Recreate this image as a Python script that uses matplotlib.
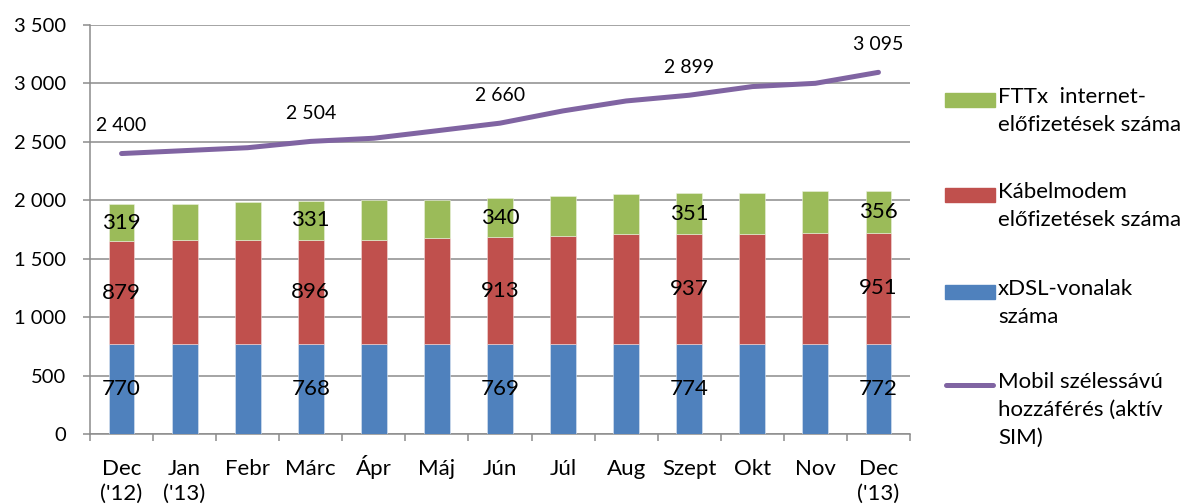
import matplotlib.pyplot as plt
from matplotlib.patches import Rectangle
from matplotlib.lines import Line2D

plt.rcParams['font.family'] = ['Lato', 'DejaVu Sans']

# Monthly data (thousands)
months = ["Dec\n('12)", "Jan\n('13)", 'Febr', 'Márc', 'Ápr', 'Máj', 'Jún',
          'Júl', 'Aug', 'Szept', 'Okt', 'Nov', "Dec\n('13)"]
xdsl = [770, 770, 769, 768, 768, 768, 769, 770, 771, 774, 772, 772, 772]
cable = [879, 893, 894, 896, 896, 909, 913, 925, 940, 937, 939, 950, 951]
fttx = [319, 308, 320, 331, 336, 325, 340, 344, 345, 351, 352, 357, 356]
mobile = [2400, 2425, 2450, 2504, 2531, 2595, 2660, 2765, 2850, 2899, 2973, 3001, 3095]
labelled = [0, 3, 6, 9, 12]

c_blue = '#4F81BD'
c_red = '#C0504D'
c_green = '#9BBB59'
c_purple = '#8064A2'
grid_c = '#8C8C8C'

def fmt(v):
    return f'{v:,}'.replace(',', ' ')

fig = plt.figure(figsize=(11.83, 5.04), dpi=100)
ax = fig.add_axes([90 / 1183, 1 - 434 / 504, 820 / 1183, 409 / 504])

x = list(range(len(months)))
w = 0.41
bottom2 = [a + b for a, b in zip(xdsl, cable)]
ax.bar(x, xdsl, w, color=c_blue, edgecolor='#DCE6F2', linewidth=0.4, zorder=3)
ax.bar(x, cable, w, bottom=xdsl, color=c_red, edgecolor='#F2DCDB', linewidth=0.4, zorder=3)
ax.bar(x, fttx, w, bottom=bottom2, color=c_green, edgecolor='#EBF1DE', linewidth=0.4, zorder=3)
ax.plot(x, mobile, color=c_purple, lw=3.6, solid_capstyle='round', zorder=4)

for i in labelled:
    ax.text(i, xdsl[i] / 2, str(xdsl[i]), ha='center', va='center', fontsize=16, zorder=5)
    ax.text(i, xdsl[i] + cable[i] / 2, str(cable[i]), ha='center', va='center', fontsize=16, zorder=5)
    ax.text(i, bottom2[i] + fttx[i] / 2, str(fttx[i]), ha='center', va='center', fontsize=16, zorder=5)
    ax.annotate(fmt(mobile[i]), (i, mobile[i]), xytext=(0, 14), textcoords='offset points',
                ha='center', va='bottom', fontsize=14, zorder=5)

ax.set_xlim(-0.5, 12.5)
ax.set_ylim(0, 3500)
ax.set_yticks(range(0, 3501, 500))
ax.set_yticklabels([fmt(v) for v in range(0, 3501, 500)], fontsize=14.5)
ax.set_xticks(x)
# every label gets two lines so that all first lines share one baseline
ax.set_xticklabels([m if '\n' in m else m + '\n' for m in months], fontsize=16, linespacing=1.33)
for lbl in ax.get_xticklabels():
    lbl.set_va('baseline')
ax.set_xticks([i - 0.5 for i in range(len(months) + 1)], minor=True)
ax.tick_params(axis='x', which='major', length=0, pad=47.5)
ax.tick_params(axis='x', which='minor', length=5, color=grid_c, width=1.1)
ax.tick_params(axis='y', length=5, color=grid_c, width=1.1, pad=12)
ax.yaxis.grid(True, color=grid_c, lw=1.1, zorder=0)
ax.set_axisbelow(True)
for s in ['top', 'right']:
    ax.spines[s].set_visible(False)
for s in ['left', 'bottom']:
    ax.spines[s].set_color(grid_c)
    ax.spines[s].set_linewidth(1.1)

# Legend drawn by hand so the key sits next to the first text line
entries = [
    ('patch', c_green, 'FTTx  internet-\nelőfizetések száma', 100),
    ('patch', c_red, 'Kábelmodem\nelőfizetések száma', 195),
    ('patch', c_blue, 'xDSL-vonalak\nszáma', 292),
    ('line', c_purple, 'Mobil szélessávú\nhozzáférés (aktív\nSIM)', 385),
]
W, H = 1183, 504
for kind, col, txt, yc in entries:
    if kind == 'patch':
        fig.patches.append(Rectangle((945 / W, 1 - (yc + 7) / H), 50 / W, 14 / H,
                                     transform=fig.transFigure, color=col))
    else:
        fig.lines.append(Line2D([946 / W, 993 / W], [1 - yc / H] * 2, transform=fig.transFigure,
                                color=col, lw=3.6, solid_capstyle='round'))
    fig.text(998 / W, 1 - (yc - 13) / H, txt, ha='left', va='top', fontsize=16,
             linespacing=1.48)

fig.savefig('out.png', dpi=100)
